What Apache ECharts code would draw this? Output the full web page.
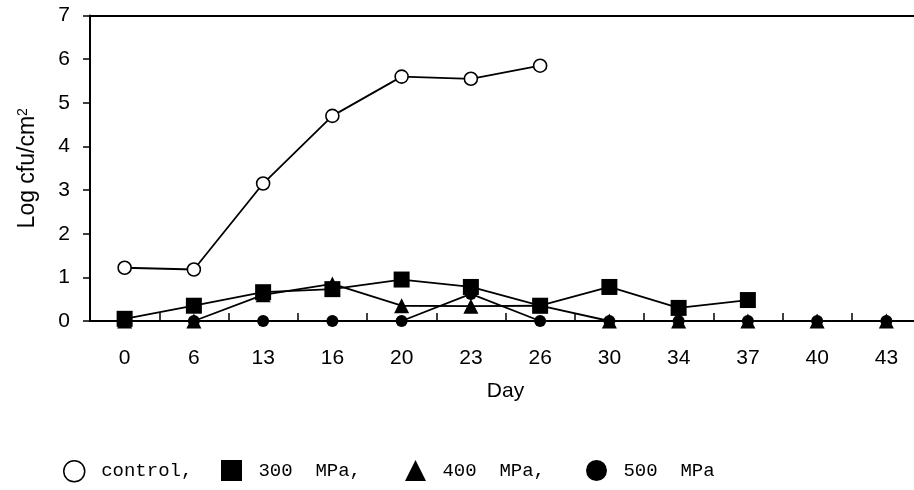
<!DOCTYPE html>
<html>
<head>
<meta charset="utf-8">
<script src="https://cdn.jsdelivr.net/npm/echarts@6/dist/echarts.min.js"></script>
<style>
  html, body { margin: 0; padding: 0; background: #fff; }
  #chart { width: 914px; height: 490px; }
</style>
</head>
<body>
<div id="chart"></div>
<script>
// Storage day (x categories) and log counts for each treatment
const days = ['0', '6', '13', '16', '20', '23', '26', '30', '34', '37', '40', '43'];
const yTicks = [0, 1, 2, 3, 4, 5, 6, 7];

const control = [1.22, 1.18, 3.15, 4.70, 5.60, 5.55, 5.85, null, null, null, null, null];
const mpa300 = [0.05, 0.35, 0.66, 0.73, 0.95, 0.78, 0.35, 0.78, 0.30, 0.48, null, null];
const mpa400 = [0.00, 0.00, 0.60, 0.85, 0.35, 0.34, 0.35, 0.00, 0.00, 0.00, 0.00, 0.00];
const mpa500 = [0.00, 0.00, 0.00, 0.00, 0.00, 0.62, 0.00, 0.00, 0.00, 0.00, 0.00, 0.00];

const seriesNames = ['control', '300 MPa', '400 MPa', '500 MPa'];
const legendTexts = [' control,', ' 300  MPa,', ' 400  MPa,', ' 500  MPa'];

const chart = echarts.init(document.getElementById('chart'), null, { renderer: 'canvas' });

const sansFont = '"Liberation Sans", Arial, sans-serif';
const legendFont = '"Liberation Mono", "Courier New", monospace';

function lineSeries(name, data, symbol, size, filled, z) {
  return {
    name: name,
    type: 'line',
    data: data,
    symbol: symbol,
    symbolSize: size,
    showAllSymbol: true,
    connectNulls: false,
    z: z,
    lineStyle: { color: '#000', width: 1.8 },
    itemStyle: filled
      ? { color: '#000', borderColor: '#000', borderWidth: 0 }
      : { color: '#fff', borderColor: '#000', borderWidth: 1.6 },
    emphasis: { disabled: true },
    animation: false
  };
}

function legendAt(left, idx, icon, filled) {
  return {
    left: left,
    top: 460,
    padding: 0,
    itemWidth: 21,
    itemHeight: 21,
    itemGap: 0,
    selectedMode: false,
    data: [{
      name: seriesNames[idx],
      icon: icon,
      itemStyle: filled
        ? { color: '#000', borderWidth: 0 }
        : { color: '#fff', borderColor: '#000', borderWidth: 1.5 }
    }],
    formatter: function () { return legendTexts[idx]; },
    textStyle: { fontFamily: legendFont, fontSize: 19, color: '#000' }
  };
}

const option = {
  backgroundColor: '#fff',
  animation: false,
  grid: { left: 90, top: 15.5, width: 831, height: 305.5, containLabel: false, outerBoundsMode: 'none' },
  legend: [
    legendAt(63, 0, 'circle', false),
    legendAt(221, 1, 'rect', true),
    legendAt(405, 2, 'triangle', true),
    legendAt(586, 3, 'circle', true)
  ],
  xAxis: [
    {
      type: 'category',
      data: days,
      boundaryGap: true,
      name: 'Day',
      nameLocation: 'middle',
      nameGap: 60,
      nameTextStyle: { fontFamily: sansFont, fontSize: 21, color: '#000' },
      axisLine: { show: true, lineStyle: { color: '#000', width: 2 } },
      axisTick: { show: true, inside: true, length: 8, alignWithLabel: false, lineStyle: { color: '#000', width: 1.5 } },
      axisLabel: { margin: 27, fontFamily: sansFont, fontSize: 21, color: '#000' },
      splitLine: { show: false }
    },
    {
      type: 'category',
      position: 'top',
      data: days,
      axisLine: { show: true, lineStyle: { color: '#000', width: 2 } },
      axisTick: { show: false },
      axisLabel: { show: false },
      splitLine: { show: false }
    }
  ],
  yAxis: {
    type: 'value',
    min: yTicks[0],
    max: yTicks[yTicks.length - 1],
    interval: 1,
    name: 'Log cfu/cm{sup|2}',
    nameLocation: 'middle',
    nameRotate: 90,
    nameGap: 50,
    nameTextStyle: {
      fontFamily: sansFont, fontSize: 23, color: '#000',
      rich: { sup: { fontFamily: sansFont, fontSize: 14, color: '#000', verticalAlign: 'top', padding: [0, 0, 10, 0] } }
    },
    axisLine: { show: true, lineStyle: { color: '#000', width: 2 } },
    axisTick: { show: true, inside: false, length: 7, lineStyle: { color: '#000', width: 1.5 } },
    axisLabel: { margin: 20, fontFamily: sansFont, fontSize: 21, color: '#000' },
    splitLine: { show: false }
  },
  series: [
    lineSeries('control', control, 'circle', 13, false, 5),
    lineSeries('500 MPa', mpa500, 'circle', 12, true, 3),
    lineSeries('400 MPa', mpa400, 'triangle', 15, true, 4),
    lineSeries('300 MPa', mpa300, 'rect', 16, true, 6)
  ]
};

chart.setOption(option);
</script>
</body>
</html>
